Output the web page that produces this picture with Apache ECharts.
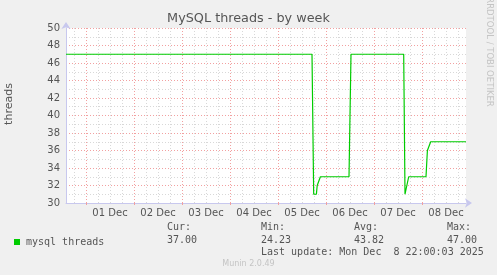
<!DOCTYPE html>
<html><head><meta charset="utf-8">
<script src="https://cdn.jsdelivr.net/npm/echarts@6/dist/echarts.min.js"></script>
<style>html,body{margin:0;padding:0;background:#f0f0f0}#c{width:497px;height:275px}</style>
</head><body><div id="c"></div>
<script>
// hours relative to 01 Dec 00:00
const hours  = [-10, 113.0, 113.85, 115.2, 115.6, 116.2, 117.2, 131.5, 132.5, 158.85, 159.5, 160.5, 161.35, 170.0, 170.7, 171.7, 172.35, 190];
const values = [47, 47, 31, 31, 32, 32, 33, 33, 47, 47, 31, 31, 33, 33, 36, 36, 37, 37];
const dayLabels = ["01 Dec","02 Dec","03 Dec","04 Dec","05 Dec","06 Dec","07 Dec","08 Dec"];
const dayStarts = [0, 24, 48, 72, 96, 120, 144, 168];
const labelHours = [12, 36, 60, 84, 108, 132, 156, 180];
const minorHours = [-6, 6, 12, 18, 30, 36, 42, 54, 60, 66, 78, 84, 90, 102, 108, 114, 126, 132, 138, 150, 156, 162, 174, 180, 186];
const statNames = ["Cur:", "Min:", "Avg:", "Max:"];
const statValues = ["37.00", "24.23", "43.82", "47.00"];
const seriesName = "mysql threads";
const lastUpdate = "Last update: Mon Dec  8 22:00:03 2025";

const X_MIN = -10, X_MAX = 190;
const mono = "DejaVu Sans Mono";
const sans = "DejaVu Sans";
const chart = echarts.init(document.getElementById('c'), null, {renderer: 'canvas'});

const statX = [167, 261, 354, 447];
const graphics = [
  {type:'text', left:'center', top:12, style:{text:'MySQL threads - by week', font:'12.8px "DejaVu Sans"', fill:'#555'}},
  {type:'text', x:9.5, y:104, rotation:Math.PI/2, style:{text:'threads', font:'11px "DejaVu Sans"', fill:'#555', align:'center', verticalAlign:'middle'}},
  {type:'text', x:489, y:52, rotation:-Math.PI/2, style:{text:'RRDTOOL / TOBI OETIKER', font:'8.5px "DejaVu Sans"', fill:'#c4c4c4', align:'center', verticalAlign:'middle'}},
  {type:'text', x:261, y:252, style:{text:lastUpdate, font:'10px "DejaVu Sans Mono"', fill:'#555', verticalAlign:'middle'}},
  {type:'text', x:248.5, y:264, style:{text:'Munin 2.0.49', font:'8px "DejaVu Sans"', fill:'#c4c4c4', align:'center', verticalAlign:'middle'}}
];
statNames.forEach((n,i)=>{
  graphics.push({type:'text', x:statX[i], y:227.5, style:{text:n, font:'10px "DejaVu Sans Mono"', fill:'#555', verticalAlign:'middle'}});
  graphics.push({type:'text', x:statX[i], y:240, style:{text:statValues[i], font:'10px "DejaVu Sans Mono"', fill:'#555', verticalAlign:'middle'}});
});

const axisColor = '#c8c8ee';
chart.setOption({
  backgroundColor:'#f0f0f0',
  animation:false,
  grid:{left:66, top:28, width:400, height:175, show:true, backgroundColor:'#ffffff', borderWidth:0},
  legend:{show:true, left:9, top:232, icon:'rect', itemWidth:6, itemHeight:6, itemGap:5,
    data:[seriesName], textStyle:{fontFamily:mono, fontSize:10, color:'#555', padding:[0,0,0,1]}},
  graphic:graphics,
  xAxis:[
    {type:'value', min:X_MIN, max:X_MAX, z:0, position:'bottom',
     axisLine:{show:false, onZero:false}, axisLabel:{show:false},
     axisTick:{show:false, customValues:minorHours},
     splitLine:{show:true, lineStyle:{color:'#d8d8d8', type:[1,2], width:1}}},
    {type:'value', min:X_MIN, max:X_MAX, z:1, position:'bottom', offset:0,
     axisLine:{show:true, onZero:false, symbol:['none','arrow'], symbolSize:[7,7], symbolOffset:[0,6], lineStyle:{color:axisColor, width:1}},
     axisTick:{show:true, customValues:dayStarts, length:2, inside:false, lineStyle:{color:'#f0a0a0'}},
     axisLabel:{show:true, customValues:labelHours, margin:5, fontFamily:sans, fontSize:10, color:'#555',
       formatter:(v)=>{const i=labelHours.indexOf(v); return i>=0?dayLabels[i]:'';}},
     splitLine:{show:true, lineStyle:{color:'#f2a0a0', type:[1,2], width:1}}}
  ],
  yAxis:[
    {type:'value', min:30, max:50, interval:1, z:0, position:'left',
     axisLine:{show:false, onZero:false}, axisLabel:{show:false}, axisTick:{show:false},
     splitLine:{show:true, lineStyle:{color:'#d8d8d8', type:[1,2], width:1}}},
    {type:'value', min:30, max:50, interval:2, z:1, position:'left', offset:0,
     axisLine:{show:true, onZero:false, symbol:['none','arrow'], symbolSize:[7,7], symbolOffset:[0,6], lineStyle:{color:axisColor, width:1}},
     axisTick:{show:false},
     axisLabel:{show:true, margin:6, fontFamily:sans, fontSize:10, color:'#555'},
     splitLine:{show:true, lineStyle:{color:'#f2a0a0', type:[1,2], width:1}}}
  ],
  series:[{
    name:seriesName, type:'line', xAxisIndex:1, yAxisIndex:1, z:5,
    showSymbol:false, symbol:'none', color:'#00cc00',
    lineStyle:{color:'#00cc00', width:1.2},
    data:hours.map((h,i)=>[h, values[i]])
  }]
});
</script></body></html>
